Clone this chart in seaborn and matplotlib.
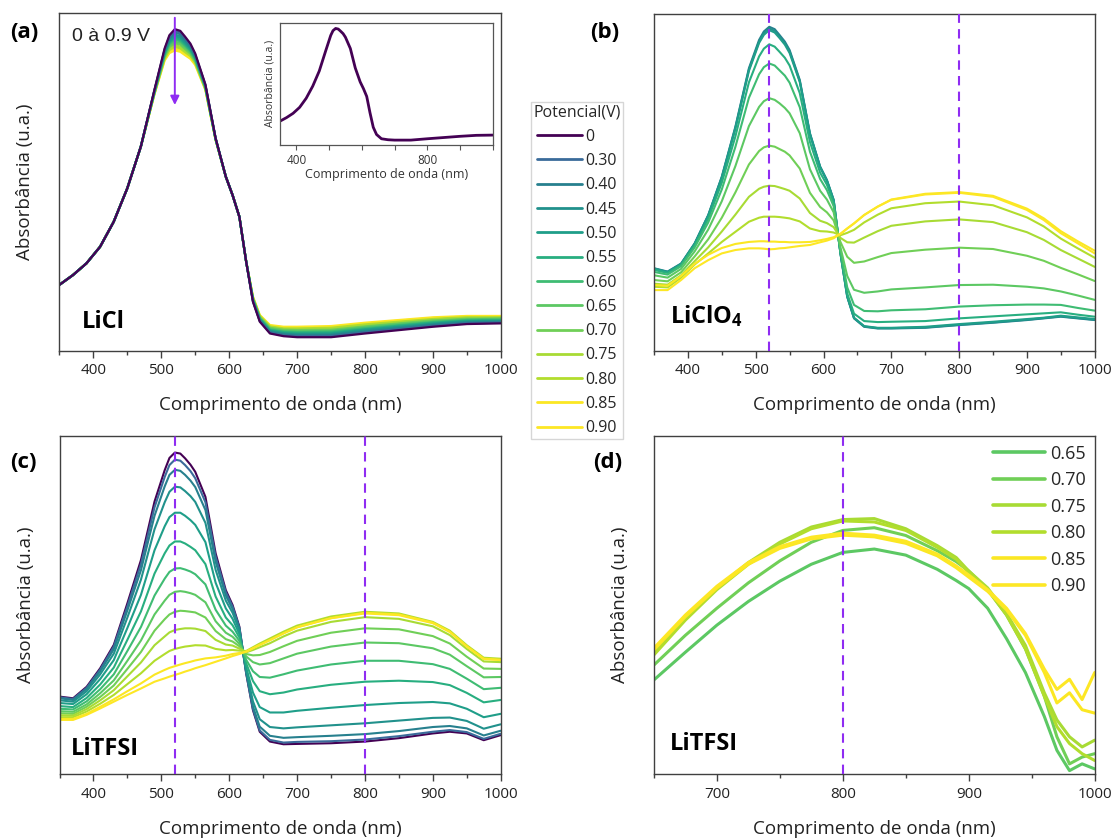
import matplotlib
matplotlib.use("Agg")
import matplotlib.pyplot as plt
from matplotlib.lines import Line2D
from matplotlib.ticker import FixedLocator
import pandas as pd
import seaborn as sns

# ---------------- data ----------------
potentials = ['0', '0.30', '0.40', '0.45', '0.50', '0.55', '0.60', '0.65',
              '0.70', '0.75', '0.80', '0.85', '0.90']
colors = ['#440154', '#3a6b9a', '#27808e', '#21918c', '#1f9e89', '#28ae80',
          '#3fbc73', '#5cc863', '#70cf57', '#a8db34', '#b2dd2d', '#fbe723', '#fde725']

wavelength = [350, 370, 390, 410, 430, 450, 470, 490, 505, 512, 520, 528, 535, 543, 550,
              565, 580, 595, 605, 615, 625, 635, 645, 660, 680, 700, 750, 800, 850, 900,
              925, 950, 975, 1000]

# (a) LiCl, 0 ... 0.90 V
licl_abs = [
    [0.195, 0.224, 0.259, 0.308, 0.382, 0.481, 0.605, 0.773, 0.896, 0.935, 0.953, 0.948, 0.931, 0.910, 0.881, 0.789, 0.630, 0.516, 0.461, 0.397, 0.264, 0.145, 0.086, 0.051, 0.043, 0.040, 0.040, 0.051, 0.061, 0.071, 0.075, 0.079, 0.080, 0.081],
    [0.195, 0.224, 0.259, 0.308, 0.382, 0.481, 0.605, 0.772, 0.893, 0.931, 0.948, 0.943, 0.926, 0.906, 0.878, 0.788, 0.630, 0.516, 0.461, 0.397, 0.264, 0.146, 0.088, 0.053, 0.045, 0.043, 0.043, 0.054, 0.064, 0.073, 0.077, 0.081, 0.082, 0.083],
    [0.195, 0.224, 0.259, 0.308, 0.382, 0.481, 0.605, 0.771, 0.890, 0.926, 0.943, 0.938, 0.922, 0.903, 0.875, 0.786, 0.629, 0.516, 0.461, 0.397, 0.264, 0.147, 0.089, 0.055, 0.048, 0.045, 0.046, 0.056, 0.066, 0.076, 0.079, 0.083, 0.084, 0.085],
    [0.195, 0.224, 0.259, 0.308, 0.382, 0.481, 0.605, 0.770, 0.887, 0.922, 0.937, 0.932, 0.917, 0.899, 0.873, 0.785, 0.629, 0.516, 0.461, 0.397, 0.264, 0.149, 0.091, 0.057, 0.050, 0.048, 0.048, 0.059, 0.069, 0.078, 0.082, 0.085, 0.086, 0.087],
    [0.195, 0.224, 0.259, 0.308, 0.382, 0.481, 0.605, 0.769, 0.884, 0.917, 0.932, 0.927, 0.913, 0.895, 0.870, 0.784, 0.628, 0.516, 0.461, 0.397, 0.264, 0.150, 0.093, 0.059, 0.052, 0.050, 0.051, 0.062, 0.071, 0.080, 0.084, 0.087, 0.088, 0.088],
    [0.195, 0.224, 0.259, 0.308, 0.382, 0.481, 0.605, 0.768, 0.881, 0.913, 0.927, 0.922, 0.908, 0.891, 0.867, 0.782, 0.628, 0.516, 0.461, 0.397, 0.264, 0.151, 0.094, 0.061, 0.055, 0.053, 0.054, 0.064, 0.074, 0.083, 0.086, 0.089, 0.090, 0.090],
    [0.195, 0.224, 0.259, 0.308, 0.382, 0.481, 0.605, 0.767, 0.878, 0.909, 0.922, 0.917, 0.904, 0.888, 0.864, 0.781, 0.628, 0.516, 0.461, 0.397, 0.264, 0.152, 0.096, 0.063, 0.057, 0.055, 0.057, 0.067, 0.076, 0.085, 0.088, 0.091, 0.092, 0.092],
    [0.195, 0.224, 0.259, 0.308, 0.382, 0.481, 0.605, 0.765, 0.875, 0.904, 0.916, 0.912, 0.899, 0.884, 0.861, 0.780, 0.627, 0.516, 0.461, 0.397, 0.264, 0.154, 0.098, 0.066, 0.059, 0.058, 0.059, 0.070, 0.079, 0.087, 0.090, 0.093, 0.094, 0.094],
    [0.195, 0.224, 0.259, 0.308, 0.382, 0.481, 0.605, 0.764, 0.872, 0.900, 0.911, 0.907, 0.894, 0.880, 0.858, 0.778, 0.627, 0.516, 0.461, 0.397, 0.264, 0.155, 0.099, 0.068, 0.062, 0.061, 0.062, 0.072, 0.081, 0.090, 0.092, 0.095, 0.095, 0.096],
    [0.195, 0.224, 0.259, 0.308, 0.382, 0.481, 0.605, 0.763, 0.869, 0.895, 0.906, 0.901, 0.890, 0.876, 0.856, 0.777, 0.626, 0.516, 0.461, 0.397, 0.264, 0.156, 0.101, 0.070, 0.064, 0.063, 0.065, 0.075, 0.084, 0.092, 0.095, 0.097, 0.097, 0.098],
    [0.195, 0.224, 0.259, 0.308, 0.382, 0.481, 0.605, 0.762, 0.866, 0.891, 0.901, 0.896, 0.885, 0.873, 0.853, 0.776, 0.626, 0.516, 0.461, 0.397, 0.264, 0.157, 0.103, 0.072, 0.066, 0.066, 0.068, 0.078, 0.086, 0.094, 0.097, 0.099, 0.099, 0.099],
    [0.195, 0.224, 0.259, 0.308, 0.382, 0.481, 0.605, 0.761, 0.863, 0.886, 0.895, 0.891, 0.881, 0.869, 0.850, 0.774, 0.625, 0.516, 0.461, 0.397, 0.264, 0.159, 0.104, 0.074, 0.069, 0.068, 0.070, 0.080, 0.089, 0.097, 0.099, 0.101, 0.101, 0.101],
    [0.195, 0.224, 0.259, 0.308, 0.382, 0.481, 0.605, 0.760, 0.860, 0.882, 0.890, 0.886, 0.876, 0.865, 0.847, 0.773, 0.625, 0.516, 0.461, 0.397, 0.264, 0.160, 0.106, 0.076, 0.071, 0.071, 0.073, 0.083, 0.091, 0.099, 0.101, 0.103, 0.103, 0.103],
]

# (b) LiClO4, 0.40 ... 0.90 V
liclo4_potentials = ['0.40', '0.45', '0.50', '0.55', '0.60', '0.65', '0.70', '0.75', '0.80', '0.85', '0.90']
liclo4_abs = [
    [0.245, 0.235, 0.259, 0.319, 0.403, 0.517, 0.665, 0.839, 0.923, 0.948, 0.962, 0.955, 0.938, 0.918, 0.893, 0.804, 0.646, 0.547, 0.507, 0.448, 0.289, 0.160, 0.096, 0.071, 0.066, 0.066, 0.068, 0.076, 0.083, 0.091, 0.096, 0.101, 0.096, 0.091],
    [0.244, 0.234, 0.258, 0.318, 0.402, 0.515, 0.662, 0.835, 0.918, 0.943, 0.957, 0.950, 0.933, 0.913, 0.889, 0.801, 0.644, 0.546, 0.506, 0.447, 0.289, 0.161, 0.097, 0.072, 0.067, 0.067, 0.069, 0.077, 0.084, 0.092, 0.097, 0.102, 0.097, 0.092],
    [0.243, 0.233, 0.257, 0.317, 0.400, 0.513, 0.659, 0.831, 0.914, 0.938, 0.952, 0.945, 0.929, 0.909, 0.884, 0.798, 0.642, 0.545, 0.505, 0.446, 0.290, 0.162, 0.098, 0.073, 0.068, 0.068, 0.071, 0.079, 0.086, 0.094, 0.098, 0.104, 0.099, 0.094],
    [0.240, 0.231, 0.255, 0.313, 0.392, 0.499, 0.636, 0.797, 0.874, 0.897, 0.910, 0.903, 0.888, 0.870, 0.847, 0.765, 0.620, 0.529, 0.493, 0.439, 0.292, 0.170, 0.110, 0.088, 0.085, 0.086, 0.088, 0.096, 0.102, 0.108, 0.111, 0.114, 0.107, 0.101],
    [0.234, 0.226, 0.251, 0.307, 0.381, 0.479, 0.605, 0.751, 0.821, 0.842, 0.853, 0.847, 0.833, 0.817, 0.796, 0.723, 0.591, 0.510, 0.477, 0.429, 0.297, 0.188, 0.136, 0.118, 0.117, 0.120, 0.123, 0.131, 0.135, 0.137, 0.137, 0.136, 0.127, 0.119],
    [0.224, 0.217, 0.243, 0.295, 0.360, 0.444, 0.548, 0.667, 0.724, 0.741, 0.750, 0.745, 0.735, 0.721, 0.705, 0.646, 0.539, 0.475, 0.449, 0.411, 0.307, 0.222, 0.181, 0.172, 0.176, 0.182, 0.188, 0.195, 0.196, 0.190, 0.185, 0.176, 0.164, 0.151],
    [0.210, 0.206, 0.233, 0.280, 0.331, 0.395, 0.470, 0.553, 0.593, 0.604, 0.609, 0.606, 0.599, 0.591, 0.580, 0.541, 0.469, 0.427, 0.411, 0.387, 0.323, 0.279, 0.261, 0.265, 0.278, 0.290, 0.300, 0.306, 0.302, 0.282, 0.267, 0.246, 0.227, 0.207],
    [0.199, 0.196, 0.224, 0.266, 0.307, 0.354, 0.404, 0.457, 0.481, 0.487, 0.490, 0.489, 0.485, 0.480, 0.475, 0.452, 0.409, 0.386, 0.379, 0.367, 0.335, 0.322, 0.321, 0.336, 0.355, 0.371, 0.384, 0.390, 0.382, 0.352, 0.329, 0.299, 0.274, 0.249],
    [0.190, 0.188, 0.217, 0.256, 0.289, 0.323, 0.353, 0.383, 0.395, 0.398, 0.398, 0.398, 0.397, 0.395, 0.393, 0.384, 0.363, 0.355, 0.354, 0.351, 0.343, 0.350, 0.359, 0.381, 0.404, 0.423, 0.438, 0.443, 0.432, 0.396, 0.369, 0.333, 0.304, 0.276],
    [0.195, 0.193, 0.222, 0.258, 0.285, 0.305, 0.317, 0.323, 0.325, 0.325, 0.324, 0.324, 0.323, 0.323, 0.322, 0.322, 0.323, 0.328, 0.332, 0.337, 0.347, 0.363, 0.378, 0.403, 0.428, 0.449, 0.466, 0.471, 0.460, 0.422, 0.393, 0.355, 0.325, 0.297],
    [0.180, 0.180, 0.210, 0.245, 0.269, 0.289, 0.299, 0.304, 0.304, 0.303, 0.301, 0.302, 0.304, 0.305, 0.307, 0.311, 0.314, 0.322, 0.327, 0.334, 0.347, 0.363, 0.378, 0.403, 0.428, 0.448, 0.464, 0.469, 0.457, 0.418, 0.388, 0.349, 0.319, 0.289],
]

# (c) LiTFSI, 0 ... 0.90 V
litfsi_abs = [
    [0.229, 0.224, 0.258, 0.313, 0.382, 0.505, 0.633, 0.806, 0.899, 0.935, 0.951, 0.948, 0.934, 0.915, 0.894, 0.820, 0.653, 0.544, 0.500, 0.436, 0.298, 0.189, 0.125, 0.096, 0.088, 0.089, 0.091, 0.096, 0.106, 0.120, 0.125, 0.120, 0.100, 0.115],
    [0.227, 0.222, 0.255, 0.309, 0.377, 0.496, 0.621, 0.789, 0.879, 0.914, 0.930, 0.927, 0.914, 0.896, 0.875, 0.804, 0.643, 0.538, 0.495, 0.433, 0.299, 0.192, 0.129, 0.101, 0.093, 0.095, 0.097, 0.102, 0.112, 0.125, 0.130, 0.124, 0.104, 0.119],
    [0.224, 0.219, 0.252, 0.304, 0.369, 0.484, 0.603, 0.764, 0.851, 0.885, 0.900, 0.897, 0.885, 0.868, 0.849, 0.781, 0.628, 0.528, 0.488, 0.430, 0.302, 0.200, 0.140, 0.113, 0.107, 0.109, 0.113, 0.118, 0.127, 0.139, 0.142, 0.135, 0.114, 0.128],
    [0.218, 0.214, 0.245, 0.295, 0.356, 0.463, 0.575, 0.724, 0.804, 0.835, 0.850, 0.848, 0.837, 0.822, 0.805, 0.743, 0.604, 0.513, 0.477, 0.424, 0.307, 0.215, 0.162, 0.139, 0.135, 0.138, 0.144, 0.150, 0.158, 0.166, 0.167, 0.157, 0.134, 0.147],
    [0.210, 0.207, 0.236, 0.281, 0.337, 0.432, 0.530, 0.662, 0.733, 0.760, 0.773, 0.773, 0.764, 0.751, 0.737, 0.686, 0.566, 0.490, 0.459, 0.414, 0.316, 0.241, 0.198, 0.182, 0.182, 0.187, 0.196, 0.204, 0.210, 0.213, 0.209, 0.193, 0.168, 0.178],
    [0.201, 0.198, 0.225, 0.265, 0.315, 0.397, 0.481, 0.593, 0.653, 0.676, 0.688, 0.688, 0.682, 0.672, 0.662, 0.621, 0.525, 0.463, 0.440, 0.404, 0.328, 0.275, 0.245, 0.236, 0.241, 0.250, 0.264, 0.273, 0.276, 0.272, 0.263, 0.240, 0.212, 0.219],
    [0.193, 0.191, 0.215, 0.251, 0.295, 0.364, 0.435, 0.528, 0.578, 0.598, 0.608, 0.609, 0.605, 0.599, 0.591, 0.561, 0.486, 0.439, 0.421, 0.394, 0.338, 0.304, 0.287, 0.285, 0.295, 0.306, 0.324, 0.335, 0.335, 0.325, 0.311, 0.282, 0.251, 0.255],
    [0.186, 0.184, 0.206, 0.239, 0.277, 0.335, 0.395, 0.472, 0.513, 0.530, 0.539, 0.541, 0.539, 0.535, 0.530, 0.508, 0.452, 0.418, 0.406, 0.385, 0.348, 0.331, 0.324, 0.328, 0.342, 0.356, 0.377, 0.389, 0.387, 0.372, 0.353, 0.319, 0.286, 0.287],
    [0.180, 0.178, 0.199, 0.228, 0.262, 0.311, 0.361, 0.424, 0.458, 0.472, 0.480, 0.483, 0.482, 0.480, 0.478, 0.463, 0.423, 0.399, 0.392, 0.378, 0.355, 0.351, 0.352, 0.361, 0.378, 0.394, 0.418, 0.431, 0.428, 0.408, 0.386, 0.347, 0.312, 0.311],
    [0.174, 0.173, 0.192, 0.218, 0.248, 0.289, 0.330, 0.381, 0.407, 0.419, 0.426, 0.429, 0.431, 0.431, 0.430, 0.423, 0.397, 0.383, 0.380, 0.371, 0.360, 0.367, 0.375, 0.387, 0.407, 0.424, 0.450, 0.464, 0.459, 0.437, 0.411, 0.370, 0.333, 0.331],
    [0.168, 0.168, 0.185, 0.208, 0.234, 0.266, 0.298, 0.335, 0.355, 0.364, 0.370, 0.374, 0.377, 0.379, 0.381, 0.380, 0.370, 0.366, 0.367, 0.365, 0.364, 0.375, 0.386, 0.401, 0.421, 0.439, 0.466, 0.480, 0.475, 0.450, 0.424, 0.381, 0.344, 0.341],
    [0.163, 0.163, 0.178, 0.199, 0.221, 0.245, 0.268, 0.294, 0.308, 0.314, 0.319, 0.324, 0.328, 0.332, 0.336, 0.342, 0.345, 0.350, 0.355, 0.358, 0.362, 0.372, 0.382, 0.396, 0.416, 0.434, 0.461, 0.477, 0.472, 0.448, 0.421, 0.378, 0.341, 0.338],
    [0.160, 0.160, 0.175, 0.194, 0.214, 0.234, 0.253, 0.273, 0.283, 0.288, 0.293, 0.298, 0.303, 0.308, 0.313, 0.322, 0.332, 0.342, 0.349, 0.355, 0.362, 0.372, 0.382, 0.396, 0.416, 0.434, 0.461, 0.475, 0.470, 0.446, 0.420, 0.377, 0.340, 0.337],
]

# (d) LiTFSI, near-IR band, 0.65 ... 0.90 V
nir_wavelength = [650, 675, 700, 725, 750, 775, 800, 825, 850, 875, 890, 900, 915, 930,
                  945, 960, 970, 980, 990, 1000]
nir_potentials = ['0.65', '0.70', '0.75', '0.80', '0.85', '0.90']
nir_abs = [
    [0.278, 0.360, 0.440, 0.510, 0.570, 0.620, 0.655, 0.665, 0.647, 0.605, 0.572, 0.548, 0.490, 0.400, 0.300, 0.170, 0.070, 0.010, 0.030, 0.015],
    [0.322, 0.410, 0.490, 0.565, 0.630, 0.685, 0.720, 0.728, 0.705, 0.660, 0.628, 0.600, 0.545, 0.470, 0.370, 0.230, 0.110, 0.030, 0.050, 0.060],
    [0.357, 0.460, 0.550, 0.625, 0.685, 0.730, 0.752, 0.755, 0.725, 0.675, 0.640, 0.600, 0.550, 0.475, 0.380, 0.240, 0.160, 0.110, 0.080, 0.100],
    [0.352, 0.455, 0.545, 0.620, 0.680, 0.725, 0.748, 0.745, 0.720, 0.670, 0.635, 0.595, 0.545, 0.470, 0.370, 0.230, 0.140, 0.090, 0.060, 0.040],
    [0.367, 0.465, 0.550, 0.620, 0.667, 0.695, 0.706, 0.701, 0.682, 0.645, 0.610, 0.582, 0.540, 0.485, 0.410, 0.300, 0.210, 0.240, 0.190, 0.180],
    [0.372, 0.470, 0.555, 0.625, 0.672, 0.700, 0.712, 0.706, 0.688, 0.650, 0.615, 0.588, 0.545, 0.490, 0.415, 0.310, 0.250, 0.280, 0.220, 0.300],
]

# ---------------- style ----------------
sns.set_theme(style="white")
plt.rcParams['font.family'] = ['Open Sans', 'DejaVu Sans']
plt.rcParams['mathtext.fontset'] = 'custom'
plt.rcParams['mathtext.rm'] = 'Open Sans'
plt.rcParams['mathtext.bf'] = 'Open Sans:bold'

palette = dict(zip(potentials, colors))
violet = '#8f2cf2'
spine_col = '#404040'
W, H = 1115, 839


def long_frame(grid, pots, rows):
    recs = []
    for p, row in zip(pots, rows):
        for w, v in zip(grid, row):
            recs.append((w, v, p))
    return pd.DataFrame(recs, columns=['nm', 'absorb', 'pot'])


def px_axes(fig, l, t, r, b):
    return fig.add_axes([l / W, 1 - b / H, (r - l) / W, (b - t) / H])


def style(ax, xmin, major, minor, ylabel=True):
    ax.set_xlim(xmin, 1000)
    ax.set_ylim(0, 1)
    ax.xaxis.set_major_locator(FixedLocator(major))
    ax.xaxis.set_minor_locator(FixedLocator(minor))
    ax.set_yticks([])
    ax.tick_params(axis='x', which='major', direction='out', length=5, width=1,
                   color=spine_col, labelsize=11, pad=4, bottom=True, labelcolor='#222222')
    ax.tick_params(axis='x', which='minor', direction='out', length=3, width=1,
                   color=spine_col, bottom=True)
    for s in ax.spines.values():
        s.set_color(spine_col)
        s.set_linewidth(1)
    ax.set_xlabel('Comprimento de onda (nm)', fontsize=13.5, labelpad=13, color='#222222')
    if ylabel:
        ax.set_ylabel('Absorbância (u.a.)', fontsize=13.5, labelpad=18, color='#222222')
    else:
        ax.set_ylabel('')


fig = plt.figure(figsize=(11.15, 8.39), dpi=100)

ax_a = px_axes(fig, 59.3, 13.3, 501, 350.7)
ax_b = px_axes(fig, 654, 14, 1094.7, 350.7)
ax_c = px_axes(fig, 59.5, 436, 500.7, 774)
ax_d = px_axes(fig, 653.9, 435.7, 1094.7, 774)

major_full = [400, 500, 600, 700, 800, 900, 1000]
minor_full = [350, 450, 550, 650, 750, 850, 950]

# (a)
df_a = long_frame(wavelength, potentials, licl_abs)
sns.lineplot(data=df_a, x='nm', y='absorb', hue='pot', hue_order=potentials[::-1],
             palette=palette, estimator=None, sort=False, legend=False, lw=1.6, ax=ax_a)
style(ax_a, 350, major_full, minor_full)
ax_a.annotate('', xy=(520, 0.72), xytext=(520, 0.995),
              arrowprops=dict(arrowstyle='-|>', color=violet, lw=1.4, mutation_scale=13))
ax_a.text(0.029, 0.93, '0 à 0.9 V', transform=ax_a.transAxes, fontsize=14,
          family=['Liberation Sans'], va='center', ha='left', color='#222222')
ax_a.text(0.051, 0.067, 'LiCl', transform=ax_a.transAxes, fontsize=17,
          fontweight='bold', va='baseline', ha='left', color='black')

# inset
ax_in = px_axes(fig, 280, 22.7, 492.7, 145)
df_in = long_frame(wavelength, potentials[:1], licl_abs[:1])
sns.lineplot(data=df_in, x='nm', y='absorb', hue='pot', palette=palette,
             estimator=None, sort=False, legend=False, lw=2.0, ax=ax_in)
ax_in.set_xlim(350, 1000)
ax_in.set_ylim(0, 1)
ax_in.xaxis.set_major_locator(FixedLocator([400, 800]))
ax_in.xaxis.set_minor_locator(FixedLocator([500, 600, 700, 900, 1000]))
ax_in.set_yticks([])
ax_in.tick_params(axis='x', which='major', direction='out', length=3.5, width=0.8,
                  color='#555555', labelsize=8.5, pad=3, bottom=True, labelcolor='#333333')
ax_in.tick_params(axis='x', which='minor', direction='out', length=3.5, width=0.8,
                  color='#555555', bottom=True)
for s in ax_in.spines.values():
    s.set_color('#555555')
    s.set_linewidth(0.9)
ax_in.set_xlabel('Comprimento de onda (nm)', fontsize=9, labelpad=1, color='#333333')
ax_in.set_ylabel('Absorbância (u.a.)', fontsize=7.5, labelpad=3, color='#333333')

# (b)
df_b = long_frame(wavelength, liclo4_potentials, liclo4_abs)
sns.lineplot(data=df_b, x='nm', y='absorb', hue='pot', hue_order=liclo4_potentials,
             palette=palette, estimator=None, sort=False, legend=False, lw=1.5, ax=ax_b)
style(ax_b, 350, major_full, minor_full, ylabel=False)
for x in (520, 800):
    ax_b.axvline(x, color=violet, lw=1.5, ls=(0, (4.5, 3)), zorder=5)
ax_b.text(0.036, 0.081, r'$\mathbf{LiClO_4}$', transform=ax_b.transAxes, fontsize=17,
          va='baseline', ha='left', color='black')

# (c)
df_c = long_frame(wavelength, potentials, litfsi_abs)
sns.lineplot(data=df_c, x='nm', y='absorb', hue='pot', hue_order=potentials,
             palette=palette, estimator=None, sort=False, legend=False, lw=1.5, ax=ax_c)
style(ax_c, 350, major_full, minor_full)
for x in (520, 800):
    ax_c.axvline(x, color=violet, lw=1.5, ls=(0, (4.5, 3)), zorder=5)
ax_c.text(0.026, 0.056, 'LiTFSI', transform=ax_c.transAxes, fontsize=17,
          fontweight='bold', va='baseline', ha='left', color='black')

# (d)
df_d = long_frame(nir_wavelength, nir_potentials, nir_abs)
sns.lineplot(data=df_d, x='nm', y='absorb', hue='pot', hue_order=nir_potentials,
             palette=palette, estimator=None, sort=False, legend=False, lw=2.2, ax=ax_d)
style(ax_d, 650, [700, 800, 900, 1000], [650, 750, 850, 950])
ax_d.axvline(800, color=violet, lw=1.5, ls=(0, (4.5, 3)), zorder=5)
ax_d.text(0.036, 0.071, 'LiTFSI', transform=ax_d.transAxes, fontsize=17,
          fontweight='bold', va='baseline', ha='left', color='black')
d_handles = [Line2D([], [], color=palette[p], lw=2.6) for p in nir_potentials]
ax_d.legend(d_handles, nir_potentials, loc='upper right', frameon=False, fontsize=13,
            handlelength=2.9, handletextpad=0.25, labelspacing=0.47,
            borderaxespad=0.1, bbox_to_anchor=(1.0, 1.0))

# shared legend
handles = [Line2D([], [], color=palette[p], lw=2) for p in potentials]
fig.legend(handles, potentials, title='Potencial(V)', loc='upper left',
           bbox_to_anchor=(531 / W, 1 - 102 / H), frameon=True, fancybox=False,
           edgecolor='#cccccc', fontsize=11.5, title_fontsize=11.5,
           handlelength=2.8, handletextpad=0.2, labelspacing=0.52,
           borderpad=0.15, borderaxespad=0)

# panel labels
for lab, x, y in (('(a)', 10, 32), ('(b)', 590, 32), ('(c)', 10, 463), ('(d)', 593, 463)):
    fig.text(x / W, 1 - y / H, lab, fontsize=16, fontweight='bold', va='center',
             ha='left', color='black')

fig.savefig('out.png', dpi=100)
